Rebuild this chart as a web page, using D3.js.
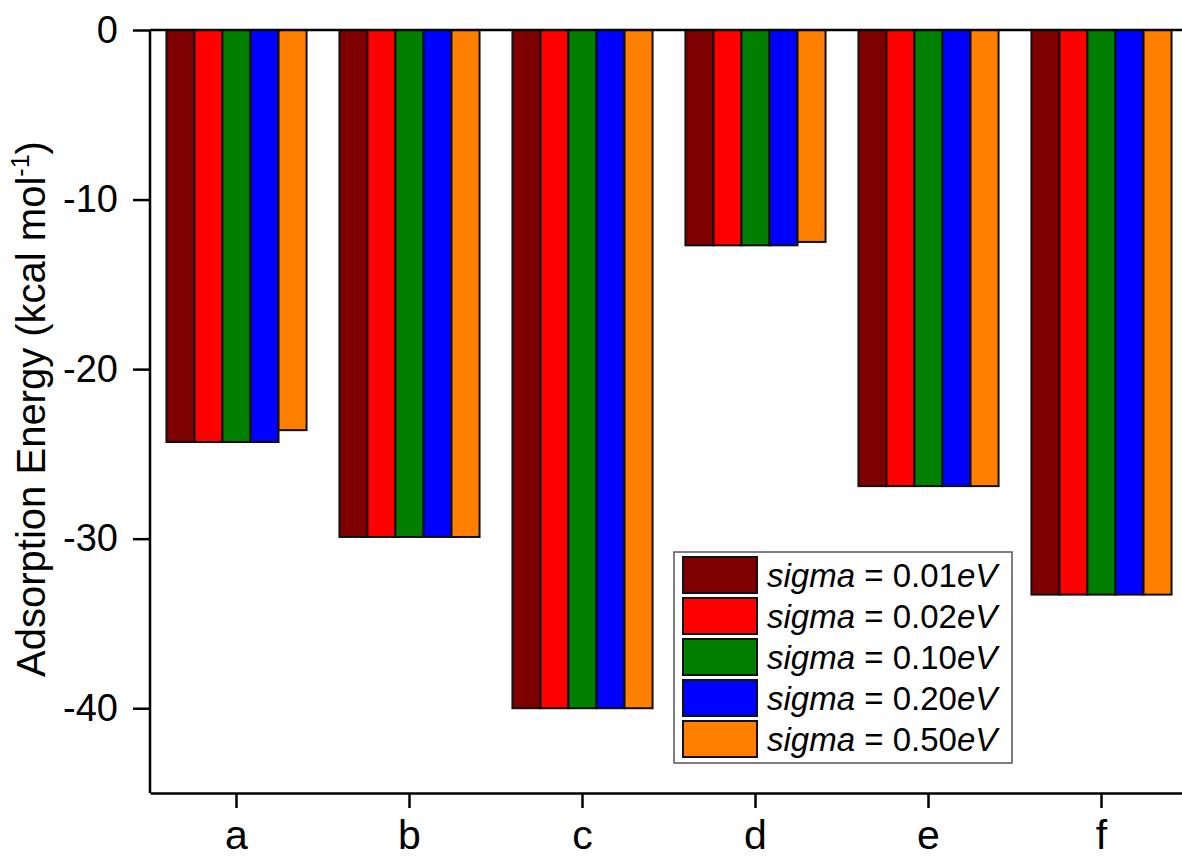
<!DOCTYPE html>
<html>
<head>
<meta charset="utf-8">
<script src="https://cdn.jsdelivr.net/npm/d3@7"></script>
<style>
  body { margin: 0; background: #fff; }
  svg { font-family: "Liberation Sans", Arial, sans-serif; }
</style>
</head>
<body>
<div id="okvir"></div>
<script>
// podatci
const kategorije = ["a", "b", "c", "d", "e", "f"];
const serije = ["0.01", "0.02", "0.10", "0.20", "0.50"];
const boje = ["#7f0000", "#ff0000", "#007f00", "#0000ff", "#ff8000"];
const vrijednosti = [
  [-24.3, -29.9, -40.0, -12.7, -26.9, -33.3], // 0.01
  [-24.3, -29.9, -40.0, -12.7, -26.9, -33.3], // 0.02
  [-24.3, -29.9, -40.0, -12.7, -26.9, -33.3], // 0.10
  [-24.3, -29.9, -40.0, -12.7, -26.9, -33.3], // 0.20
  [-23.6, -29.9, -40.0, -12.5, -26.9, -33.3]  // 0.50
];
const yTicks = [0, -10, -20, -30, -40];

const dimenzije = {
  width: 1182,
  height: 859,
  margin: { top: 30, right: -6, bottom: 66, left: 150 }
};
dimenzije.boundsWidth = dimenzije.width - dimenzije.margin.left - dimenzije.margin.right;
dimenzije.boundsHeight = dimenzije.height - dimenzije.margin.top - dimenzije.margin.bottom;

const okvir = d3.select("#okvir").append("svg")
  .attr("width", dimenzije.width)
  .attr("height", dimenzije.height);

const granice = okvir.append("g")
  .attr("transform", `translate(${dimenzije.margin.left},${dimenzije.margin.top})`);

const xMjerilo = d3.scaleBand()
  .domain(kategorije)
  .range([0, dimenzije.boundsWidth])
  .paddingInner(0.19)
  .paddingOuter(0.095);

const xSerija = d3.scaleBand()
  .domain(serije)
  .range([0, xMjerilo.bandwidth()]);

const yMjerilo = d3.scaleLinear()
  .domain([-45, 0])
  .range([dimenzije.boundsHeight, 0]);

// stupci
serije.forEach((s, si) => {
  granice.append("g")
    .selectAll("rect")
    .data(vrijednosti[si])
    .join("rect")
      .attr("x", (d, i) => xMjerilo(kategorije[i]) + xSerija(s))
      .attr("y", yMjerilo(0))
      .attr("width", xSerija.bandwidth())
      .attr("height", d => yMjerilo(d) - yMjerilo(0))
      .attr("fill", boje[si])
      .attr("stroke", "#111")
      .attr("stroke-width", 2);
});

// osi
const yOs = granice.append("g")
  .call(d3.axisLeft(yMjerilo).tickValues(yTicks).tickSize(17).tickPadding(15).tickFormat(d3.format("d")));
yOs.select(".domain").remove();
yOs.selectAll("line").attr("stroke-width", 2.5);
yOs.selectAll("text").attr("font-size", 38).attr("fill", "#000")
  .attr("font-family", "Liberation Sans, Arial, sans-serif")
  .text(d => d === 0 ? "0" : "-" + Math.abs(d));

granice.append("line")
  .attr("x1", 0).attr("x2", 0)
  .attr("y1", yMjerilo(0)).attr("y2", dimenzije.boundsHeight)
  .attr("stroke", "#000").attr("stroke-width", 2.5);

// nulta linija
granice.append("line")
  .attr("x1", 0).attr("x2", dimenzije.boundsWidth)
  .attr("y1", yMjerilo(0)).attr("y2", yMjerilo(0))
  .attr("stroke", "#000").attr("stroke-width", 2.5);

const xOs = granice.append("g")
  .attr("transform", `translate(0,${dimenzije.boundsHeight})`)
  .call(d3.axisBottom(xMjerilo).tickSize(15).tickSizeOuter(0));
xOs.select(".domain").attr("stroke-width", 2.5);
xOs.selectAll("line").attr("stroke-width", 2.5);
xOs.selectAll("text").attr("font-size", 41).attr("fill", "#000")
  .attr("font-family", "Liberation Sans, Arial, sans-serif")
  .attr("y", 56).attr("dy", 0);

// naslov osi
const naslov = okvir.append("text")
  .attr("transform", "translate(45,409) rotate(-90)")
  .attr("text-anchor", "middle")
  .attr("font-size", 40);
naslov.append("tspan").text("Adsorption Energy (kcal mol");
naslov.append("tspan").attr("font-size", 25).attr("dy", -16).text("-1");
naslov.append("tspan").attr("dy", 16).text(")");

// legenda
const legenda = okvir.append("g").attr("transform", "translate(674,552)");
legenda.append("rect")
  .attr("width", 338).attr("height", 211)
  .attr("fill", "#fff").attr("stroke", "#555").attr("stroke-width", 1.5);

serije.forEach((s, si) => {
  const red = legenda.append("g").attr("transform", `translate(9,${5 + si * 41})`);
  red.append("rect")
    .attr("width", 74).attr("height", 36)
    .attr("fill", boje[si]).attr("stroke", "#111").attr("stroke-width", 2);
  const t = red.append("text").attr("x", 84).attr("y", 30).attr("font-size", 33);
  t.append("tspan").attr("font-style", "italic").text("sigma");
  t.append("tspan").text(" = " + s);
  t.append("tspan").attr("font-style", "italic").text("eV");
});
</script>
</body>
</html>
